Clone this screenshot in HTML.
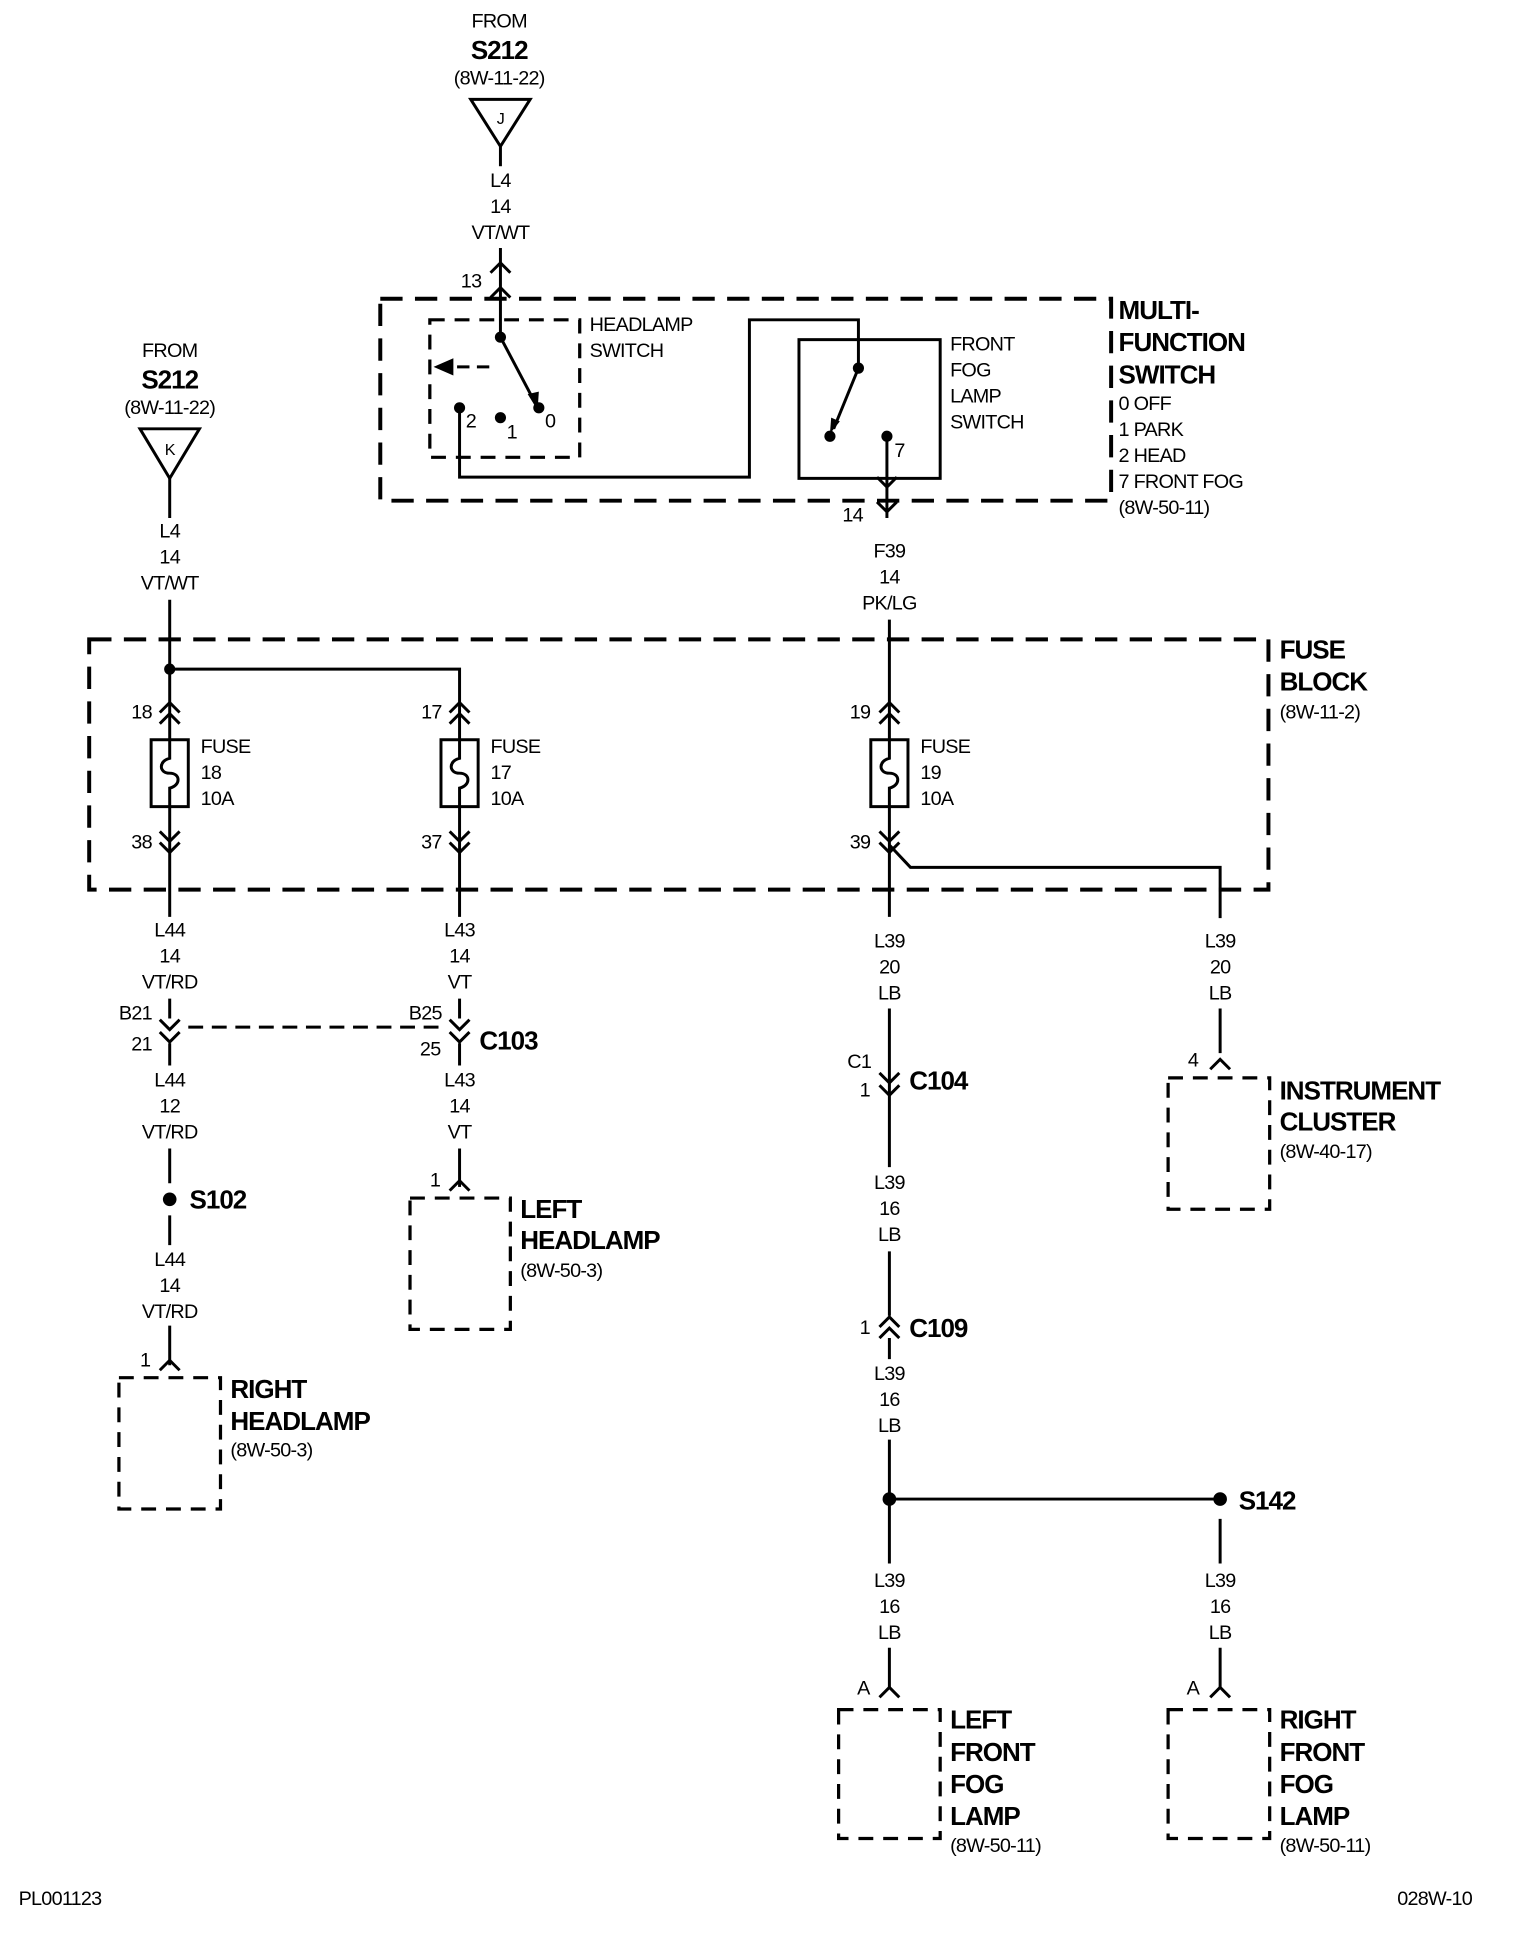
<!DOCTYPE html>
<html><head><style>
html,body{margin:0;padding:0;background:#fff;}
svg{display:block;}
text{font-family:"Liberation Sans Narrow","Liberation Sans",sans-serif;font-size:16px;dominant-baseline:central;letter-spacing:-0.6px;fill:#000;}
.b{font-weight:bold;font-size:21px;letter-spacing:-0.8px;}
.m{text-anchor:middle;}
.w{stroke:#000;stroke-width:2.4;fill:none;}
.d{stroke:#000;stroke-width:3.2;fill:none;stroke-dasharray:18 10;}
.ds{stroke:#000;stroke-width:2.6;fill:none;stroke-dasharray:12 8;}
</style></head><body>
<svg width="1536" height="1944" viewBox="0 0 1240 1569" xmlns="http://www.w3.org/2000/svg">
<text class="m" x="403" y="17">FROM</text>
<text class="m b" x="403" y="40">S212</text>
<text class="m" x="403" y="63">(8W-11-22)</text>
<polygon points="380,80 428,80 404,118" class="w"/>
<text class="m" x="404" y="96" style="font-size:13px">J</text>
<line class="w" x1="404" y1="118" x2="404" y2="134"/>
<text class="m" x="404" y="146">L4</text><text class="m" x="404" y="167">14</text><text class="m" x="404" y="188">VT/WT</text>
<line class="w" x1="404" y1="200" x2="404" y2="272"/>
<path class="w" d="M396 220 L404 212 L412 220 M396 240 L404 232 L412 240"/>
<text x="372" y="227">13</text>
<rect class="d" x="307" y="241" width="590" height="163"/>
<rect class="ds" x="347" y="258" width="121" height="111"/>
<text x="476" y="262">HEADLAMP</text><text x="476" y="283">SWITCH</text>
<circle cx="404" cy="272" r="4.5"/>
<line class="w" x1="404" y1="272" x2="432" y2="325"/>
<path d="M426 318 L434 331 L435 316 Z"/>
<circle cx="435" cy="329" r="4.5"/>
<line class="w" x1="395" y1="296" x2="362" y2="296" stroke-dasharray="10 6"/>
<path d="M350 296 L366 289 L366 303 Z"/>
<circle cx="371" cy="329" r="4.5"/><circle cx="404" cy="337" r="4.5"/>
<text x="376" y="340">2</text><text x="409" y="349">1</text><text x="440" y="340">0</text>
<path class="w" d="M371 329 V385 H605 V258 H693 V297"/>
<rect class="w" x="645" y="274" width="114" height="112"/>
<circle cx="693" cy="297" r="4.5"/>
<line class="w" x1="693" y1="297" x2="673" y2="346"/>
<path d="M670 350 L671 337 L678 340 Z"/>
<circle cx="670" cy="352" r="4.5"/><circle cx="716" cy="352" r="4.5"/>
<text x="722" y="364">7</text>
<line class="w" x1="716" y1="352" x2="716" y2="418"/>
<path class="w" d="M708 385 L716 393 L724 385 M708 405 L716 413 L724 405"/>
<text x="680" y="416">14</text>
<text x="767" y="278">FRONT</text><text x="767" y="299">FOG</text><text x="767" y="320">LAMP</text><text x="767" y="341">SWITCH</text>
<text class="b" x="903" y="250">MULTI-</text><text class="b" x="903" y="276">FUNCTION</text><text class="b" x="903" y="302">SWITCH</text>
<text x="903" y="326">0 OFF</text><text x="903" y="347">1 PARK</text><text x="903" y="368">2 HEAD</text><text x="903" y="389">7 FRONT FOG</text><text x="903" y="410">(8W-50-11)</text>
<text class="m" x="718" y="445">F39</text><text class="m" x="718" y="466">14</text><text class="m" x="718" y="487">PK/LG</text>
<text class="m" x="137" y="283">FROM</text>
<text class="m b" x="137" y="306">S212</text>
<text class="m" x="137" y="329">(8W-11-22)</text>
<polygon points="113,346 161,346 137,386" class="w"/>
<text class="m" x="137" y="363" style="font-size:13px">K</text>
<line class="w" x1="137" y1="386" x2="137" y2="418"/>
<text class="m" x="137" y="429">L4</text><text class="m" x="137" y="450">14</text><text class="m" x="137" y="471">VT/WT</text>
<rect class="d" x="72" y="516" width="952" height="202"/>
<text class="b" x="1033" y="524">FUSE</text><text class="b" x="1033" y="550">BLOCK</text><text x="1033" y="575">(8W-11-2)</text>
<circle cx="137" cy="540" r="4.5"/>
<path class="w" d="M137 484 V740 M137 540 H371 V740 M718 500 V740 M718 682 L735 700 H985 V742"/>
<g class="w">
<path d="M129 575 L137 567 L145 575 M129 584 L137 576 L145 584"/>
<path d="M363 575 L371 567 L379 575 M363 584 L371 576 L379 584"/>
<path d="M710 575 L718 567 L726 575 M710 584 L718 576 L726 584"/>
<path d="M129 671 L137 679 L145 671 M129 680 L137 688 L145 680"/>
<path d="M363 671 L371 679 L379 671 M363 680 L371 688 L379 680"/>
<path d="M710 671 L718 679 L726 671 M710 680 L718 688 L726 680"/>
</g>
<g fill="#fff" stroke="#000" stroke-width="2.4">
<rect x="122" y="597" width="30" height="54"/><rect x="356" y="597" width="30" height="54"/><rect x="703" y="597" width="30" height="54"/>
</g>
<path class="w" d="M137 597 V612 C128 614 128 624 137 624 C146 624 146 634 137 636 V651 M371 597 V612 C362 614 362 624 371 624 C380 624 380 634 371 636 V651 M718 597 V612 C709 614 709 624 718 624 C727 624 727 634 718 636 V651"/>
<text x="106" y="575">18</text><text x="340" y="575">17</text><text x="686" y="575">19</text>
<text x="106" y="680">38</text><text x="340" y="680">37</text><text x="686" y="680">39</text>
<text x="162" y="603">FUSE</text><text x="162" y="624">18</text><text x="162" y="645">10A</text>
<text x="396" y="603">FUSE</text><text x="396" y="624">17</text><text x="396" y="645">10A</text>
<text x="743" y="603">FUSE</text><text x="743" y="624">19</text><text x="743" y="645">10A</text>
<rect x="100" y="741" width="680" height="66" fill="#fff"/>
<rect x="950" y="741" width="70" height="66" fill="#fff"/>
<text class="m" x="137" y="751">L44</text><text class="m" x="137" y="772">14</text><text class="m" x="137" y="793">VT/RD</text>
<text class="m" x="371" y="751">L43</text><text class="m" x="371" y="772">14</text><text class="m" x="371" y="793">VT</text>
<text class="m" x="718" y="760">L39</text><text class="m" x="718" y="781">20</text><text class="m" x="718" y="802">LB</text>
<text class="m" x="985" y="760">L39</text><text class="m" x="985" y="781">20</text><text class="m" x="985" y="802">LB</text>
<path class="w" d="M137 806 V822 M137 842 V860 M371 806 V822 M371 842 V860"/>
<path class="w" d="M129 823 L137 831 L145 823 M129 833 L137 841 L145 833 M363 823 L371 831 L379 823 M363 833 L371 841 L379 833"/>
<line class="w" x1="152" y1="829" x2="360" y2="829" stroke-dasharray="12 7"/>
<text x="96" y="818">B21</text><text x="106" y="843">21</text>
<text x="330" y="818">B25</text><text x="339" y="847">25</text>
<text class="b" x="387" y="840">C103</text>
<text class="m" x="137" y="872">L44</text><text class="m" x="137" y="893">12</text><text class="m" x="137" y="914">VT/RD</text>
<text class="m" x="371" y="872">L43</text><text class="m" x="371" y="893">14</text><text class="m" x="371" y="914">VT</text>
<path class="w" d="M137 927 V955 M137 981 V1005 M137 1070 V1102"/>
<circle cx="137" cy="968" r="5.5"/>
<text class="b" x="153" y="968">S102</text>
<text class="m" x="137" y="1017">L44</text><text class="m" x="137" y="1038">14</text><text class="m" x="137" y="1059">VT/RD</text>
<path class="w" d="M129 1106 L137 1098 L145 1106"/>
<text x="113" y="1098">1</text>
<rect class="ds" x="96" y="1112" width="82" height="106" stroke-dasharray="16 9"/>
<text class="b" x="186" y="1121">RIGHT</text><text class="b" x="186" y="1147">HEADLAMP</text><text x="186" y="1171">(8W-50-3)</text>
<path class="w" d="M371 927 V958"/>
<path class="w" d="M363 961 L371 953 L379 961"/>
<text x="347" y="953">1</text>
<rect class="ds" x="331" y="967" width="81" height="106" stroke-dasharray="16 9"/>
<text class="b" x="420" y="976">LEFT</text><text class="b" x="420" y="1001">HEADLAMP</text><text x="420" y="1026">(8W-50-3)</text>
<path class="w" d="M718 814 V942 M718 1010 V1062 M718 1080 V1097 M718 1162 V1262 M718 1330 V1362 M985 814 V850"/>
<path class="w" d="M710 866 L718 874 L726 866 M710 876 L718 884 L726 876"/>
<text x="684" y="857">C1</text><text x="694" y="880">1</text>
<text class="b" x="734" y="872">C104</text>
<text class="m" x="718" y="955">L39</text><text class="m" x="718" y="976">16</text><text class="m" x="718" y="997">LB</text>
<path class="w" d="M710 1071 L718 1063 L726 1071 M710 1080 L718 1072 L726 1080"/>
<text x="694" y="1072">1</text>
<text class="b" x="734" y="1072">C109</text>
<text class="m" x="718" y="1109">L39</text><text class="m" x="718" y="1130">16</text><text class="m" x="718" y="1151">LB</text>
<circle cx="718" cy="1210" r="5.5"/><circle cx="985" cy="1210" r="5.5"/>
<line class="w" x1="718" y1="1210" x2="985" y2="1210"/>
<text class="b" x="1000" y="1211">S142</text>
<path class="w" d="M985 1226 V1262 M985 1330 V1362"/>
<rect x="700" y="1264" width="36" height="64" fill="#fff"/>
<text class="m" x="718" y="1276">L39</text><text class="m" x="718" y="1297">16</text><text class="m" x="718" y="1318">LB</text>
<text class="m" x="985" y="1276">L39</text><text class="m" x="985" y="1297">16</text><text class="m" x="985" y="1318">LB</text>
<path class="w" d="M710 1370 L718 1362 L726 1370 M977 1370 L985 1362 L993 1370"/>
<text x="692" y="1363">A</text><text x="958" y="1363">A</text>
<rect class="ds" x="677" y="1380" width="82" height="104" stroke-dasharray="16 9"/>
<rect class="ds" x="943" y="1380" width="82" height="104" stroke-dasharray="16 9"/>
<text class="b" x="767" y="1388">LEFT</text><text class="b" x="767" y="1414">FRONT</text><text class="b" x="767" y="1440">FOG</text><text class="b" x="767" y="1466">LAMP</text><text x="767" y="1490">(8W-50-11)</text>
<text class="b" x="1033" y="1388">RIGHT</text><text class="b" x="1033" y="1414">FRONT</text><text class="b" x="1033" y="1440">FOG</text><text class="b" x="1033" y="1466">LAMP</text><text x="1033" y="1490">(8W-50-11)</text>
<path class="w" d="M977 863 L985 855 L993 863"/>
<text x="959" y="856">4</text>
<rect class="ds" x="943" y="870" width="82" height="106" stroke-dasharray="16 9"/>
<text class="b" x="1033" y="880">INSTRUMENT</text><text class="b" x="1033" y="905">CLUSTER</text><text x="1033" y="930">(8W-40-17)</text>
<text x="15" y="1533">PL001123</text>
<text x="1128" y="1533">028W-10</text>
</svg>
</body></html>
